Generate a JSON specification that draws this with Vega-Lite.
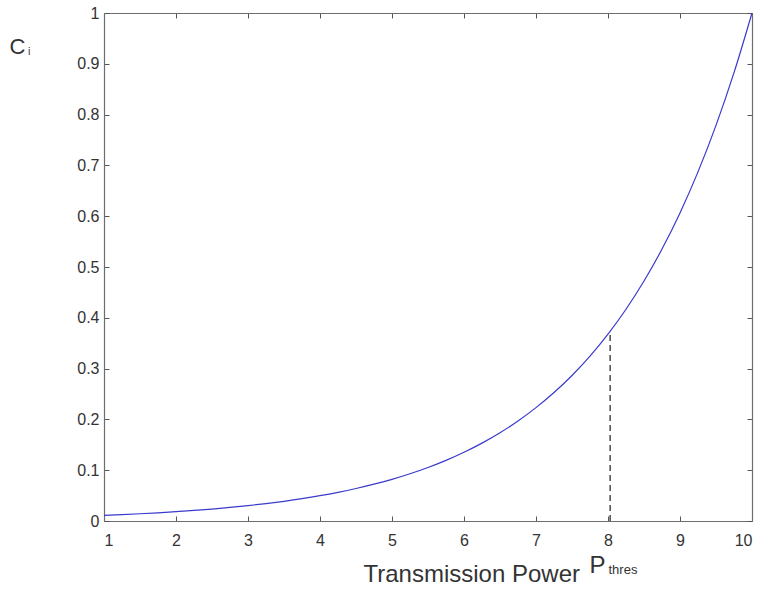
{
  "$schema": "https://vega.github.io/schema/vega-lite/v6.json",
  "width": 648,
  "height": 508,
  "autosize": {"type": "none"},
  "padding": {"left": 104, "top": 13, "right": 6, "bottom": 69},
  "background": "white",
  "config": {
    "view": {"stroke": null},
    "font": "Liberation Sans",
    "axis": {
      "grid": false,
      "domainColor": "#6e6e6e",
      "domainWidth": 1.2,
      "tickColor": "#555555",
      "tickWidth": 1,
      "tickSize": -5,
      "labelFont": "Liberation Sans",
      "labelFontSize": 16,
      "labelColor": "#333333",
      "titleFont": "Liberation Sans",
      "titleColor": "#333333",
      "titleFontWeight": "normal"
    }
  },
  "title": {
    "text": "i",
    "anchor": "start",
    "frame": "group",
    "orient": "top",
    "baseline": "alphabetic",
    "offset": 0,
    "dx": -76,
    "dy": 61,
    "fontSize": 11,
    "fontWeight": "normal",
    "color": "#444444",
    "font": "Liberation Sans"
  },
  "datasets": {
    "curve": [
      {"p": 1, "c": 0.01111},
      {"p": 1.25, "c": 0.01259},
      {"p": 1.5, "c": 0.01426},
      {"p": 1.75, "c": 0.01616},
      {"p": 2, "c": 0.01832},
      {"p": 2.25, "c": 0.02075},
      {"p": 2.5, "c": 0.02352},
      {"p": 2.75, "c": 0.02665},
      {"p": 3, "c": 0.0302},
      {"p": 3.25, "c": 0.03422},
      {"p": 3.5, "c": 0.03877},
      {"p": 3.75, "c": 0.04394},
      {"p": 4, "c": 0.04979},
      {"p": 4.25, "c": 0.05642},
      {"p": 4.5, "c": 0.06393},
      {"p": 4.75, "c": 0.07244},
      {"p": 5, "c": 0.08208},
      {"p": 5.25, "c": 0.09301},
      {"p": 5.5, "c": 0.1054},
      {"p": 5.75, "c": 0.11943},
      {"p": 6, "c": 0.13534},
      {"p": 6.25, "c": 0.15335},
      {"p": 6.5, "c": 0.17377},
      {"p": 6.75, "c": 0.19691},
      {"p": 7, "c": 0.22313},
      {"p": 7.25, "c": 0.25284},
      {"p": 7.5, "c": 0.2865},
      {"p": 7.75, "c": 0.32465},
      {"p": 8, "c": 0.36788},
      {"p": 8.25, "c": 0.41686},
      {"p": 8.5, "c": 0.47237},
      {"p": 8.75, "c": 0.53526},
      {"p": 9, "c": 0.60653},
      {"p": 9.25, "c": 0.68729},
      {"p": 9.5, "c": 0.7788},
      {"p": 9.75, "c": 0.8825},
      {"p": 10, "c": 1.0}
    ],
    "thres": [{"p": 8.03, "c0": 0, "c1": 0.37}]
  },
  "layer": [
    {
      "data": {"name": "curve"},
      "mark": {"type": "line", "color": "#3a3acd", "strokeWidth": 1.2, "interpolate": "monotone"},
      "encoding": {
        "x": {
          "field": "p", "type": "quantitative",
          "scale": {"domain": [1, 10], "nice": false, "zero": false},
          "axis": {
            "orient": "bottom",
            "values": [1, 2, 3, 4, 5, 6, 7, 8, 9, 10],
            "format": "d",
            "labelPadding": 16,
            "title": "Transmission Power",
            "titleFontSize": 24,
            "titleAnchor": "start",
            "titleAlign": "left",
            "titleBaseline": "alphabetic",
            "titleX": 259,
            "titleY": 60
          }
        },
        "y": {
          "field": "c", "type": "quantitative",
          "scale": {"domain": [0, 1], "nice": false},
          "axis": {
            "orient": "left",
            "values": [0, 0.1, 0.2, 0.3, 0.4, 0.5, 0.6, 0.7, 0.8, 0.9, 1],
            "format": "~g",
            "labelPadding": 10,
            "title": "C",
            "titleFontSize": 22,
            "titleAngle": 0,
            "titleAlign": "left",
            "titleBaseline": "alphabetic",
            "titleX": -95,
            "titleY": 40
          }
        }
      }
    },
    {
      "data": {"name": "thres"},
      "mark": {"type": "rule", "color": "#555555", "strokeWidth": 1.6, "strokeDash": [6, 4]},
      "encoding": {
        "x": {
          "field": "p", "type": "quantitative",
          "scale": {"domain": [1, 10], "nice": false, "zero": false},
          "axis": {
            "orient": "top",
            "values": [1, 2, 3, 4, 5, 6, 7, 8, 9, 10],
            "labels": false,
            "title": "P",
            "titleFontSize": 24,
            "titleAlign": "left",
            "titleBaseline": "alphabetic",
            "titleX": 485,
            "titleY": 559
          }
        },
        "y": {
          "field": "c0", "type": "quantitative",
          "scale": {"domain": [0, 1], "nice": false},
          "axis": {
            "orient": "right",
            "values": [0, 0.1, 0.2, 0.3, 0.4, 0.5, 0.6, 0.7, 0.8, 0.9, 1],
            "labels": false,
            "title": "thres",
            "titleFontSize": 13,
            "titleAngle": 0,
            "titleAlign": "left",
            "titleBaseline": "alphabetic",
            "titleX": -144,
            "titleY": 560
          }
        },
        "y2": {"field": "c1"}
      }
    }
  ],
  "resolve": {"axis": {"x": "independent", "y": "independent"}}
}
